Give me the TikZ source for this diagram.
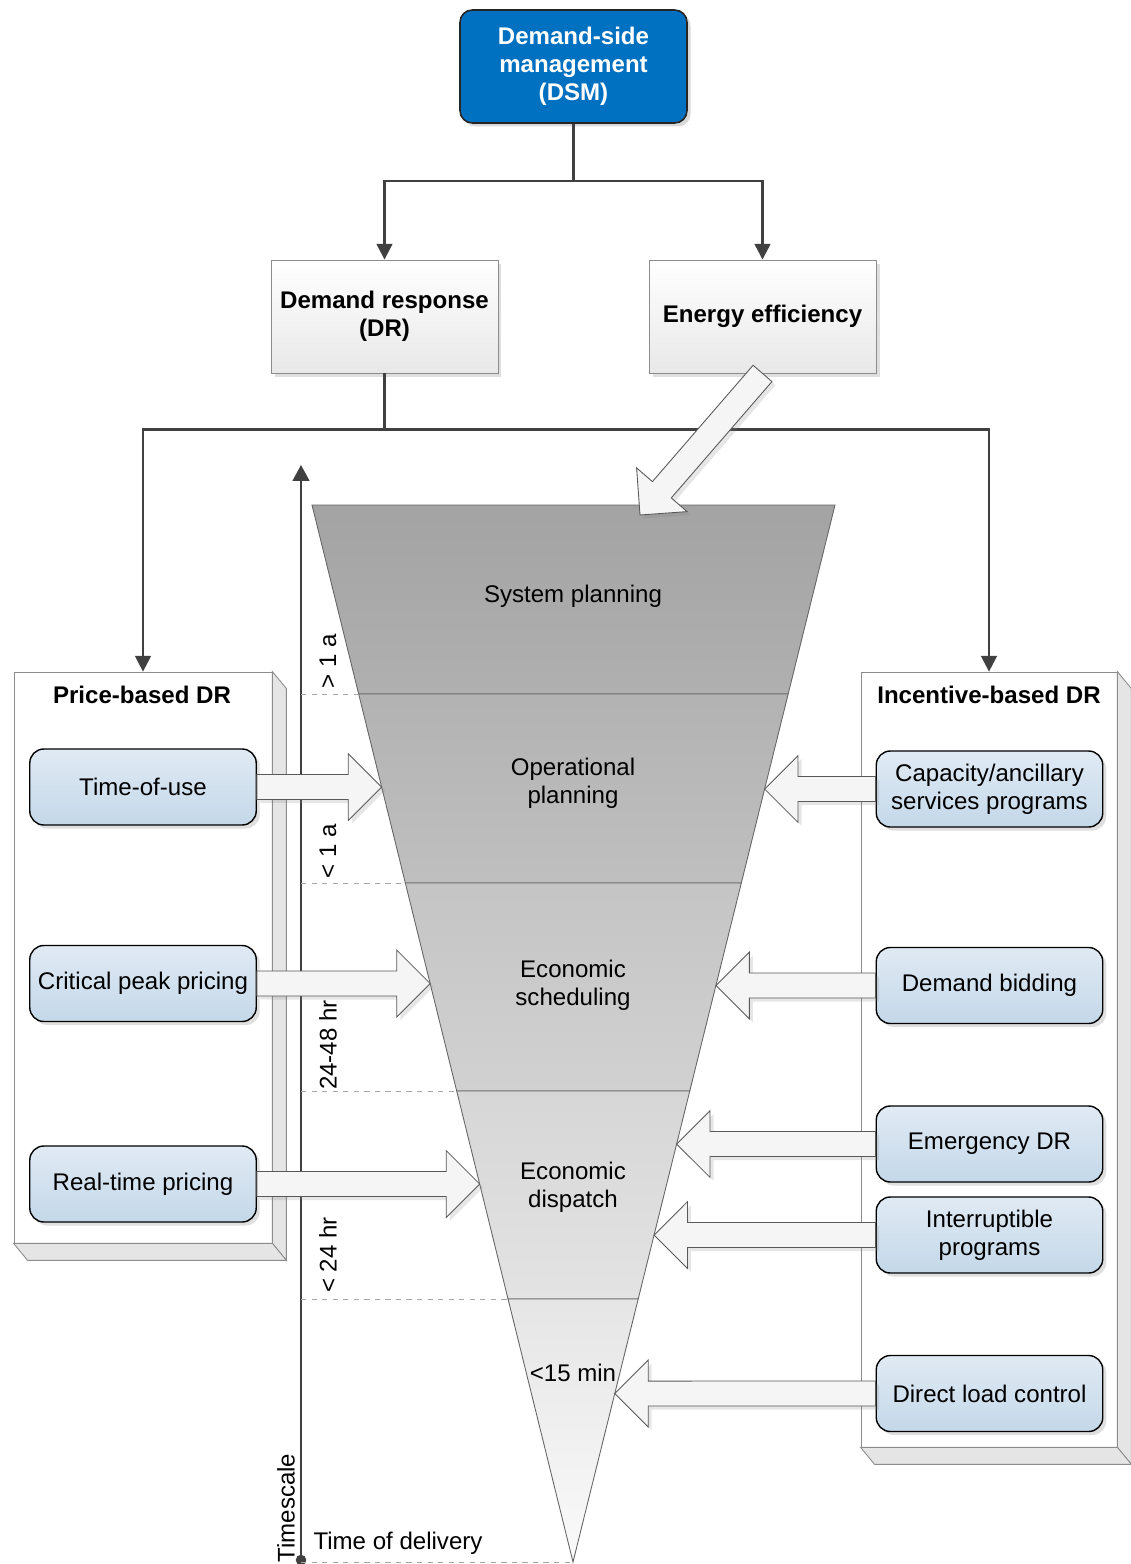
\documentclass[tikz,border=0pt]{standalone}
\usepackage{fontspec}
\setmainfont{Liberation Sans}
\usetikzlibrary{arrows.meta}
\usetikzlibrary{calc, shadows, math}
\definecolor{dsmblue}{RGB}{0,112,192}
\definecolor{darkline}{RGB}{64,64,64}
\definecolor{boxedge}{RGB}{140,140,140}
\definecolor{lightblue}{RGB}{224,234,244}
\definecolor{midblue}{RGB}{196,216,233}

\newcommand{\arrshaft}{7.1pt}
\newcommand{\arrhead}{19pt}
\newcommand{\arrlen}{19pt}
\newcommand{\blockarrow}[2]{%
  \coordinate (ba-h) at ($(#2)!\arrlen!(#1)$);
  \draw[blockarr] ($(#1)!\arrshaft!90:(#2)$) -- ($(ba-h)!\arrshaft!90:(#2)$) -- ($(ba-h)!\arrhead!90:(#2)$) -- (#2)
    -- ($(ba-h)!\arrhead!-90:(#2)$) -- ($(ba-h)!\arrshaft!-90:(#2)$) -- ($(#1)!\arrshaft!-90:(#2)$) -- cycle;
}

\tikzset{
  txt/.style={font=\fontsize{13.7}{16}\selectfont, align=center, inner sep=1pt},
  boldtxt/.style={txt, font=\fontsize{13.7}{16}\selectfont\bfseries},
  dsmbox/.style={boldtxt, text=white, fill=dsmblue, draw=black!85, line width=0.9pt, rounded corners=7pt,
    minimum width=4.54cm, minimum height=2.26cm, drop shadow={opacity=0.3, shadow xshift=2pt, shadow yshift=-2pt}},
  graybox/.style={boldtxt, draw=boxedge, line width=0.5pt, top color=white, bottom color=black!9,
    minimum width=4.54cm, minimum height=2.26cm, drop shadow={opacity=0.25, shadow xshift=2pt, shadow yshift=-2pt}},
  itembox/.style={txt, draw=black, line width=0.8pt, rounded corners=8pt, top color=lightblue, bottom color=midblue,
    minimum width=4.53cm, minimum height=1.52cm, drop shadow={opacity=0.25, shadow xshift=2pt, shadow yshift=-2pt}},
  panel/.style={draw=boxedge, line width=0.5pt, fill=white},
  panelside/.style={draw=boxedge, line width=0.5pt, fill=black!10},
  conn/.style={draw=darkline, line width=1.3pt, -{Triangle[length=9pt,width=9pt]}},
  blockarr/.style={draw=black!65, line width=0.5pt, fill=black!4, drop shadow={opacity=0.2, shadow xshift=2pt, shadow yshift=-2pt}},
  band/.style={draw=black!60, line width=0.5pt},
  dashline/.style={draw=black!35, dashed, line width=0.5pt},
}

\begin{document}
\begin{tikzpicture}[x=0.02cm, y=-0.02cm]
\tikzmath{
\yt=505;
\yb=1562;
}
\useasboundingbox (0,0) rectangle (1131,1564);

% top level
\node[dsmbox] (dsm) at (573.5,66.5) {Demand-side\\management\\(DSM)};
\node[graybox] (dr) at (384.5,316.5) {Demand response\\(DR)};
\node[graybox] (ee) at (762.5,316.5) {Energy efficiency};

\draw[conn] (dsm.south) -- ++(0,57) -| (dr.north);
\draw[conn] (dsm.south) -- ++(0,57) -| (ee.north);

% side panels
\node[panel, minimum width=5.16cm, minimum height=11.42cm] (price) at (143,957.5) {};
\draw[panelside] (price.north east) -- ++(14,17) -- ($(price.south east)+(14,17)$) -- (price.south east) -- cycle;
\draw[panelside] (price.south west) -- (price.south east) -- ($(price.south east)+(14,17)$) -- ($(price.south west)+(14,17)$) -- cycle;
\node[panel, minimum width=5.12cm, minimum height=15.5cm] (incent) at (989,1059.5) {};
\draw[panelside] (incent.north east) -- ++(14,17) -- ($(incent.south east)+(14,17)$) -- (incent.south east) -- cycle;
\draw[panelside] (incent.south west) -- (incent.south east) -- ($(incent.south east)+(14,17)$) -- ($(incent.south west)+(14,17)$) -- cycle;

\draw[conn] (dr.south) -- ++(0,56) -| (price.north);
\draw[conn] (dr.south) -- ++(0,56) -| (incent.north);

\node[boldtxt] (pricettl) at (142,695) {Price-based DR};
\node[boldtxt] (incttl) at (989,695) {Incentive-based DR};

% timescale axis
\coordinate (axb) at (301,1560);
\coordinate (axt) at (301,465);
\draw[darkline, line width=1.1pt, -{Triangle[length=9pt,width=9.5pt]}] (axb) -- (axt);
\fill[darkline] (axb) circle (3pt);

% funnel
\coordinate (ftl) at (312,\yt);
\coordinate (ftr) at (835,\yt);
\coordinate (ftip) at (573,\yb);
\foreach \y [count=\i] in {694,883,1091,1299}{
  \coordinate (l\i) at ($(ftl)!{(\y-\yt)/(\yb-\yt)}!(ftip)$);
  \coordinate (r\i) at ($(ftr)!{(\y-\yt)/(\yb-\yt)}!(ftip)$);
}
\draw[band, top color=black!36, bottom color=black!31] (ftl) -- (ftr) -- (r1) -- (l1) -- cycle;
\draw[band, top color=black!30, bottom color=black!25] (l1) -- (r1) -- (r2) -- (l2) -- cycle;
\draw[band, top color=black!23, bottom color=black!18] (l2) -- (r2) -- (r3) -- (l3) -- cycle;
\draw[band, top color=black!16, bottom color=black!11] (l3) -- (r3) -- (r4) -- (l4) -- cycle;
\draw[band, top color=black!10, bottom color=black!2] (l4) -- (r4) -- (ftip) -- cycle;

\foreach \i in {1,...,4}
  \draw[dashline] (axb |- l\i) -- (l\i);
\draw[dashline] (axb |- ftip) -- (ftip);

\node[txt] (sysplan) at (573,596) {System planning};
\node[txt] (opplan) at (573,783) {Operational\\planning};
\node[txt] (ecsched) at (573,985) {Economic\\scheduling};
\node[txt] (ecdisp) at (573,1187) {Economic\\dispatch};
\node[txt] (fifteen) at (573,1373) {<15 min};

\node[txt, rotate=90] (ts1) at (328,661) {> 1 a};
\node[txt, rotate=90] (ts2) at (328,851) {< 1 a};
\node[txt, rotate=90] (ts3) at (328,1045) {24-48 hr};
\node[txt, rotate=90] (ts4) at (328,1255) {< 24 hr};
\node[txt, rotate=90] (tsname) at (286,1508) {Timescale};
\node[txt] (tod) at (398,1543) {Time of delivery};

% programs
\node[itembox] (tou) at (143,787) {Time-of-use};
\node[itembox] (cpp) at (143,983.5) {Critical peak pricing};
\node[itembox] (rtp) at (143,1184) {Real-time pricing};
\node[itembox] (cap) at (989.5,789) {Capacity/ancillary\\services programs};
\node[itembox] (bid) at (989.5,985.5) {Demand bidding};
\node[itembox] (emg) at (989.5,1144) {Emergency DR};
\node[itembox] (intr) at (989.5,1235) {Interruptible\\programs};
\node[itembox] (dlc) at (989.5,1393.5) {Direct load control};

\foreach \n in {tou,cpp,rtp}
  \coordinate (t-\n) at (intersection of ftl--ftip and \n.west--\n.east);
\foreach \n in {cap,bid,emg,intr,dlc}
  \coordinate (t-\n) at (intersection of ftr--ftip and \n.west--\n.east);
\coordinate (t-ee) at (640,515);

\blockarrow{ee.south}{t-ee}
\blockarrow{tou.east}{t-tou}
\blockarrow{cpp.east}{t-cpp}
\blockarrow{rtp.east}{t-rtp}
\blockarrow{cap.west}{t-cap}
\blockarrow{bid.west}{t-bid}
\blockarrow{emg.west}{t-emg}
\blockarrow{intr.west}{t-intr}
\blockarrow{dlc.west}{t-dlc}
\end{tikzpicture}
\end{document}
